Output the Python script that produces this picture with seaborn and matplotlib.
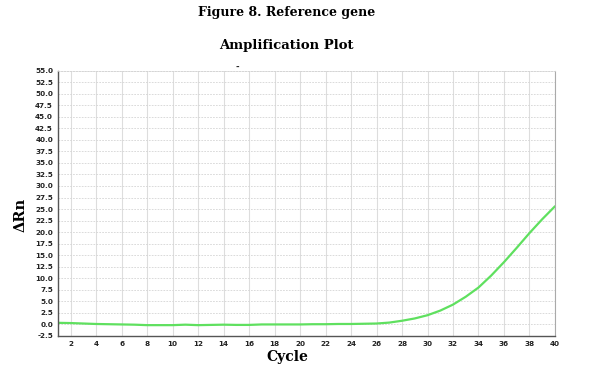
import numpy as np
import pandas as pd
import matplotlib
matplotlib.use("Agg")
import matplotlib.pyplot as plt
import seaborn as sns

# amplification curve (cycle -> delta Rn)
cycles = list(range(1, 41))
delta_rn = [0.35, 0.3, 0.2, 0.1, 0.05, 0.0, -0.05, -0.15, -0.15, -0.15,
            -0.05, -0.15, -0.1, -0.05, -0.1, -0.1, 0.0, 0.0, 0.0, 0.0,
            0.05, 0.05, 0.1, 0.1, 0.15, 0.2, 0.4, 0.8, 1.3, 2.0,
            3.0, 4.3, 6.0, 8.0, 10.6, 13.5, 16.6, 19.8, 22.8, 25.6]
x_ticks = list(range(2, 41, 2))
y_ticks = [i * 2.5 for i in range(-1, 23)]

df = pd.DataFrame({"cycle": cycles, "drn": delta_rn})

sns.set_style("white")
fig = plt.figure(figsize=(5.91, 3.65), dpi=100)
ax = fig.add_axes([0.098, 0.0795, 0.841, 0.727])

sns.lineplot(data=df, x="cycle", y="drn", color="#5fe05f", linewidth=1.6, ax=ax)

ax.set_xlim(1, 40)
ax.set_ylim(-2.5, 55)
ax.set_xticks(x_ticks)
ax.set_yticks(y_ticks)
ax.set_xticklabels([str(t) for t in x_ticks])
ax.set_yticklabels([f"{t:.1f}" for t in y_ticks])
ax.tick_params(axis="both", labelsize=5.2, colors="#222222", length=2, width=0.6, pad=1.5)
for lab in ax.get_xticklabels() + ax.get_yticklabels():
    lab.set_fontweight("bold")

ax.xaxis.grid(True, color="#dddddd", linewidth=0.8)
ax.yaxis.grid(True, color="#d4d4d4", linestyle=(0, (2, 1.5)), linewidth=0.6)
ax.set_axisbelow(True)
for side in ["left", "bottom"]:
    ax.spines[side].set_color("#555555")
    ax.spines[side].set_linewidth(1.0)
ax.spines["right"].set_color("#aaaaaa")
ax.spines["top"].set_color("#d4d4d4")
ax.spines["top"].set_linestyle((0, (2, 1.5)))
ax.spines["top"].set_linewidth(0.6)

ax.set_xlabel("")
ax.set_ylabel("")
fig.text(0.486, 0.021, "Cycle", ha="center", va="center", fontsize=10,
         fontweight="bold", family="DejaVu Serif", color="black")
fig.text(0.035, 0.41, "\u0394Rn", ha="center", va="center", rotation=90,
         fontsize=10.5, fontweight="bold", family="DejaVu Serif", color="black")

fig.text(0.485, 0.966, "Figure 8. Reference gene", ha="center", va="center",
         fontsize=9, fontweight="bold", family="DejaVu Serif", color="black")
fig.text(0.484, 0.874, "Amplification Plot", ha="center", va="center",
         fontsize=9.5, fontweight="bold", family="DejaVu Serif", color="black")
fig.text(0.401, 0.816, "-", ha="center", va="center", fontsize=6, fontweight="bold")

fig.savefig("out.png", dpi=100)
